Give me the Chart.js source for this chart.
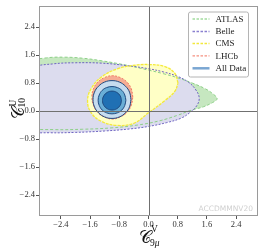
<!DOCTYPE html>
<html><head><meta charset="utf-8">
<script src="https://cdn.jsdelivr.net/npm/chart.js@4.4.0/dist/chart.umd.min.js"></script>
<style>html,body{margin:0;padding:0;background:#fff;overflow:hidden}canvas{display:block}</style>
</head><body>
<canvas id="c" width="262" height="250"></canvas>
<script>
// ---- axis ticks ----
const tickValues = [-2.4, -1.6, -0.8, 0, 0.8, 1.6, 2.4];
const tickLabels = ['\u22122.4', '\u22121.6', '\u22120.8', '0.0', '0.8', '1.6', '2.4'];

// ---- contour outlines (C9muV, C10U) ----
const atlasX = [-3.75, -3.6, -3.2, -2.8, -2.3, -1.8, -1.3, -0.6, 0.0, 0.4, 0.8, 1.2, 1.55, 1.78, 1.88, 1.75, 1.5, 1.3, 1.1, 0.8, 0.3, -0.3, -1.0, -1.8, -2.6, -3.2, -3.6];
const atlasY = [0.45, 1.05, 1.42, 1.52, 1.54, 1.51, 1.44, 1.31, 1.17, 1.07, 0.95, 0.80, 0.64, 0.48, 0.35, 0.24, 0.12, 0.06, 0.0, -0.12, -0.28, -0.40, -0.48, -0.52, -0.53, -0.48, -0.2];

const belleX = [-3.8, -3.6, -3.2, -2.6, -2.0, -1.3, -0.6, 0.0, 0.4, 0.8, 1.1, 1.3, 1.39, 1.32, 1.15, 0.9, 0.5, 0.0, -0.5, -1.2, -2.0, -2.7, -3.2, -3.6];
const belleY = [0.35, 0.92, 1.24, 1.35, 1.38, 1.37, 1.30, 1.21, 1.12, 0.99, 0.82, 0.60, 0.37, 0.15, -0.03, -0.20, -0.33, -0.44, -0.51, -0.57, -0.61, -0.62, -0.58, -0.30];

const cmsX = [0.81, 0.72, 0.45, 0.0, -0.45, -0.87, -1.28, -1.56, -1.67, -1.57, -1.28, -0.87, -0.40, 0.0, 0.45, 0.72];
const cmsY = [0.80, 1.08, 1.27, 1.33, 1.30, 1.20, 0.98, 0.66, 0.30, -0.05, -0.30, -0.41, -0.35, -0.05, 0.30, 0.56];

const lhcbX = [-0.43, -0.47, -0.59, -0.78, -0.99, -1.20, -1.39, -1.51, -1.55, -1.51, -1.39, -1.20, -0.99, -0.78, -0.59, -0.47];
const lhcbY = [0.40, 0.63, 0.83, 0.96, 1.01, 0.96, 0.83, 0.63, 0.40, 0.17, -0.04, -0.17, -0.23, -0.17, -0.04, 0.17];

const allOuterX = [-0.48, -0.52, -0.63, -0.80, -1.0, -1.20, -1.37, -1.48, -1.52, -1.48, -1.37, -1.20, -1.0, -0.80, -0.63, -0.52];
const allOuterY = [0.33, 0.54, 0.71, 0.83, 0.87, 0.83, 0.71, 0.54, 0.33, 0.12, -0.05, -0.17, -0.21, -0.17, -0.05, 0.12];

const allMidX = [-0.62, -0.65, -0.73, -0.85, -1.0, -1.15, -1.27, -1.35, -1.38, -1.35, -1.27, -1.15, -1.0, -0.85, -0.73, -0.65];
const allMidY = [0.31, 0.46, 0.59, 0.67, 0.70, 0.67, 0.59, 0.46, 0.31, 0.16, 0.03, -0.05, -0.08, -0.05, 0.03, 0.16];

const allInnerX = [-0.74, -0.775, -0.87, -1.0, -1.13, -1.225, -1.26, -1.225, -1.13, -1.0, -0.87, -0.775];
const allInnerY = [0.30, 0.435, 0.534, 0.57, 0.534, 0.435, 0.30, 0.165, 0.066, 0.03, 0.066, 0.165];

const seriesNames = ['ATLAS', 'Belle', 'CMS', 'LHCb', 'All Data'];

function closed(xs, ys) {
  const p = xs.map((x, i) => ({x: x, y: ys[i]}));
  p.push({x: xs[0], y: ys[0]});
  return p;
}

function shape(label, xs, ys, fillC, lineC, dash, bw, order, legend) {
  return {
    label: label, data: closed(xs, ys), showLine: true, fill: 'shape',
    backgroundColor: fillC, borderColor: lineC, borderWidth: bw, borderDash: dash,
    pointRadius: 0, pointHoverRadius: 0, tension: 0.4, capBezierPoints: false, order: order,
    legendStyle: legend
  };
}

const datasets = [
  shape(seriesNames[0], atlasX, atlasY, '#c6e7c0', '#8dd088', [3, 2], 1, 6, {c: '#a3dc9f', dash: [2.5, 1.5], w: 1.3}),
  shape(seriesNames[1], belleX, belleY, '#dcdcee', '#6e63c2', [2, 1.5], 1, 5, {c: '#8a80d0', dash: [2.5, 1.5], w: 1.3}),
  shape(seriesNames[2], cmsX, cmsY, '#ffffc6', '#f4ea3a', [3, 1], 1.3, 4, {c: '#f2e83c', dash: [2.5, 1.5], w: 1.3}),
  shape(seriesNames[3], lhcbX, lhcbY, '#f6ad93', '#f27a66', [2, 1.5], 1, 3, {c: '#f59080', dash: [2.5, 1.5], w: 1.3}),
  shape(seriesNames[4], allOuterX, allOuterY, '#c6dcef', '#1f4a80', [], 1, 2, {c: '#7aa6d2', dash: [], w: 2.5}),
  shape('', allMidX, allMidY, '#6aaed6', '#1f4a80', [], 1, 1, null),
  shape('', allInnerX, allInnerY, '#2070b4', '#1f4a80', [], 1, 0, null)
];

const tickFont = {family: '"Liberation Serif", serif', size: 8.5};

function axis() {
  return {
    type: 'linear', min: -3, max: 3,
    afterBuildTicks: s => { s.ticks = tickValues.map(v => ({value: v})); },
    ticks: {
      callback: (v, i) => tickLabels[i], font: tickFont, color: '#333',
      padding: 1, maxRotation: 0, autoSkip: false
    },
    grid: {
      color: 'rgba(0,0,0,0)', lineWidth: 1, tickColor: '#555', tickLength: 3, drawTicks: true
    },
    border: {display: false}
  };
}

const xAxis = axis(); xAxis.afterFit = s => { s.height = 34; };
const yAxis = axis(); yAxis.afterFit = s => { s.width = 39; };

const zeroLinePlugin = {
  id: 'zeroLines',
  afterDatasetsDraw(chart) {
    const ctx = chart.ctx, a = chart.chartArea;
    const x0 = Math.round(chart.scales.x.getPixelForValue(0)) + 0.5;
    const y0 = Math.round(chart.scales.y.getPixelForValue(0)) + 0.5;
    ctx.save();
    ctx.strokeStyle = '#707070'; ctx.lineWidth = 1;
    ctx.beginPath();
    ctx.moveTo(x0, a.top); ctx.lineTo(x0, a.bottom);
    ctx.moveTo(a.left, y0); ctx.lineTo(a.right, y0);
    ctx.stroke();
    ctx.restore();
  }
};

const framePlugin = {
  id: 'frameAndText',
  afterDraw(chart) {
    const ctx = chart.ctx, a = chart.chartArea;
    ctx.save();
    // frame
    ctx.strokeStyle = '#9a9a9a'; ctx.lineWidth = 1;
    ctx.strokeRect(Math.round(a.left) + 0.5, Math.round(a.top) + 0.5, Math.round(a.right - a.left) - 1, Math.round(a.bottom - a.top) - 1);

    // watermark
    ctx.font = '7.5px "DejaVu Sans", sans-serif';
    ctx.fillStyle = '#d0d0d0'; ctx.textAlign = 'right'; ctx.textBaseline = 'middle';
    ctx.fillText('ACCDMMNV20', a.right - 5, a.bottom - 7);

    // legend
    const lx = 188, ly = 11.5, lw = 60, lh = 65;
    ctx.beginPath();
    if (ctx.roundRect) ctx.roundRect(lx + 0.5, ly + 0.5, lw, lh, 2); else ctx.rect(lx + 0.5, ly + 0.5, lw, lh);
    ctx.fillStyle = 'rgba(255,255,255,0.85)'; ctx.fill();
    ctx.strokeStyle = '#b4b4b4'; ctx.lineWidth = 1; ctx.stroke();
    const rows = [19, 31.5, 43.5, 55.8, 68.3];
    let k = 0;
    chart.data.datasets.forEach(ds => {
      if (!ds.legendStyle) return;
      const y = rows[k++];
      ctx.beginPath(); ctx.setLineDash(ds.legendStyle.dash);
      ctx.strokeStyle = ds.legendStyle.c; ctx.lineWidth = ds.legendStyle.w;
      ctx.moveTo(192.5, y); ctx.lineTo(209.5, y); ctx.stroke();
      ctx.setLineDash([]);
      ctx.font = '9px "Liberation Serif", serif'; ctx.fillStyle = '#222';
      ctx.textAlign = 'left'; ctx.textBaseline = 'middle';
      ctx.fillText(ds.label, 215.5, y + 0.5);
    });

    // axis titles
    const bigC = '\uD835\uDC9E';
    ctx.fillStyle = '#111'; ctx.textAlign = 'left'; ctx.textBaseline = 'alphabetic';
    // x title
    ctx.font = '17px "DejaVu Serif", "DejaVu Sans", serif';
    const wx = ctx.measureText(bigC).width;
    const x0 = 138.5, bx = 243;
    ctx.fillText(bigC, x0, bx);
    ctx.font = '9.5px "Liberation Serif", serif';
    ctx.fillText('V', x0 + wx + 0.5, bx - 11);
    ctx.fillText('9', x0 + wx - 0.5, bx + 2.5);
    const w9 = ctx.measureText('9').width;
    ctx.font = 'italic 9.5px "Liberation Serif", serif';
    ctx.fillText('\u03BC', x0 + wx - 0.5 + w9, bx + 2.5);
    // y title
    ctx.translate(23.5, 119);
    ctx.rotate(-Math.PI / 2);
    ctx.font = '17px "DejaVu Serif", "DejaVu Sans", serif';
    const wy = ctx.measureText(bigC).width;
    ctx.fillText(bigC, 0, 0);
    ctx.font = '9.5px "Liberation Serif", serif';
    ctx.fillText('U', wy + 0.5, -7.5);
    ctx.fillText('10', wy - 0.5, 1.5);
    ctx.restore();
  }
};

new Chart(document.getElementById('c'), {
  type: 'scatter',
  data: {datasets: datasets},
  options: {
    responsive: false, devicePixelRatio: 1, animation: false,
    layout: {padding: {left: 0, right: 4, top: 3, bottom: 0}},
    scales: {x: xAxis, y: yAxis},
    plugins: {
      legend: {display: false}, tooltip: {enabled: false},
      filler: {drawTime: 'beforeDatasetsDraw'}
    },
    events: []
  },
  plugins: [zeroLinePlugin, framePlugin]
});
</script>
</body></html>
